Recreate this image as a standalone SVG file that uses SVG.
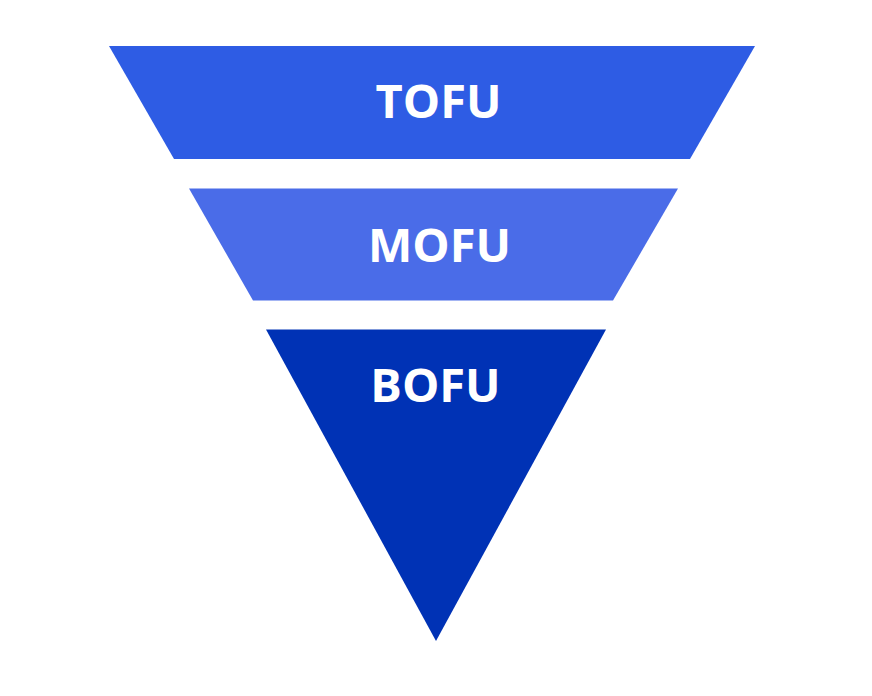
<svg xmlns="http://www.w3.org/2000/svg" width="872" height="696" viewBox="0 0 872 696">
<style>
.lbl{font-family:"Open Sans","Noto Sans","Liberation Sans",sans-serif;font-weight:700;font-size:47px;fill:#ffffff;text-anchor:middle}
</style>
<rect width="872" height="696" fill="#ffffff"/>
<g id="tofu">
<polygon points="109,46 755,46 690,159 174,159" fill="#2E5CE4"/>
<text class="lbl" x="438.5" y="118">TOFU</text>
</g>
<g id="mofu">
<polygon points="189,188.5 678,188.5 613,300.5 253,300.5" fill="#4A6CE8"/>
<text class="lbl" x="439.5" y="262">MOFU</text>
</g>
<g id="bofu">
<polygon points="266,329.5 606,329.5 436,641" fill="#0032B5"/>
<text class="lbl" x="435.5" y="402">BOFU</text>
</g>
<g id="connectors"/>
</svg>
